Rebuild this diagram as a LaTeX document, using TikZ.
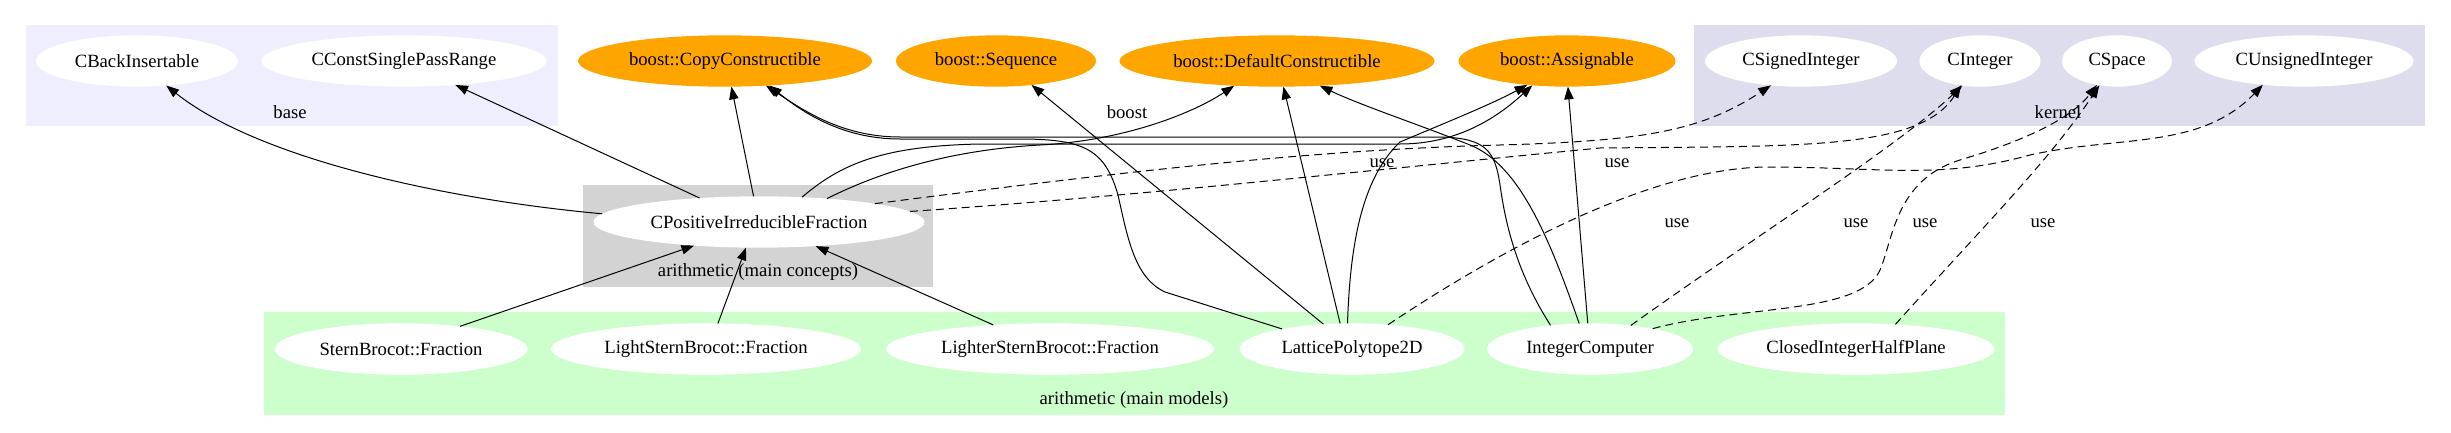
\documentclass[tikz,border=0pt]{standalone}
\usepackage{fontspec}
\setmainfont{Liberation Serif}
\usetikzlibrary{shapes.geometric,arrows.meta}
\definecolor{basebg}{HTML}{EEEEFF}
\definecolor{kernelbg}{HTML}{DDDDEE}
\definecolor{conceptbg}{HTML}{D3D3D3}
\definecolor{modelbg}{HTML}{CCFFCC}
\definecolor{boostorange}{HTML}{FFA500}

\begin{document}
\begin{tikzpicture}[x=0.75pt,y=-0.75pt]
        \tikzstyle{every node}=[font=\fontsize{14}{16}\selectfont]
        \tikzstyle{concept}=[ellipse,fill=white,inner sep=0pt,outer sep=0pt,minimum height=38.5pt]
        \tikzstyle{boostconcept}=[concept,fill=boostorange]
        \tikzstyle{dep}=[-{Triangle[length=9.5pt,width=7pt]},line width=0.75pt]
        \tikzstyle{usedep}=[dep,dash pattern=on 6pt off 3.75pt]
        \useasboundingbox (0,0) rectangle (2451,432);

        % clusters
        \fill[basebg] (26,25) rectangle (558,126);
        \fill[kernelbg] (1694,25) rectangle (2425,126);
        \fill[conceptbg] (583,185) rectangle (933,287);
        \fill[modelbg] (264,312) rectangle (2005,415);
        \node (lbase) at (290,112) {base};
        \node (lboost) at (1127,112) {boost};
        \node (lkernel) at (2058,112) {kernel};
        \node (lconcepts) at (758,272) {arithmetic (main concepts)};
        \node (lmodels) at (1134,400) {arithmetic (main models)};

        % top row
        \node[concept,minimum width=151.5pt] (cbi) at (137,61) {CBackInsertable};
        \node[concept,minimum width=213.75pt] (ccspr) at (404,61) {CConstSinglePassRange};
        \node[boostconcept,minimum width=220.5pt] (bcc) at (725,61) {boost::CopyConstructible};
        \node[boostconcept,minimum width=150pt] (bseq) at (996,61) {boost::Sequence};
        \node[boostconcept,minimum width=236.25pt] (bdc) at (1277,61) {boost::DefaultConstructible};
        \node[boostconcept,minimum width=162.75pt] (bas) at (1567,61) {boost::Assignable};
        \node[concept,minimum width=144pt] (csi) at (1801,61) {CSignedInteger};
        \node[concept,minimum width=90.75pt] (cint) at (1980,61) {CInteger};
        \node[concept,minimum width=82.5pt] (cspace) at (2117,61) {CSpace};
        \node[concept,minimum width=164.25pt] (cui) at (2304,61) {CUnsignedInteger};

        % concepts
        \node[concept,minimum width=248.25pt] (cpif) at (759,222) {CPositiveIrreducibleFraction};

        % models
        \node[concept,minimum width=189.75pt] (sbf) at (401,349) {SternBrocot::Fraction};
        \node[concept,minimum width=232.5pt] (lsbf) at (706,349) {LightSternBrocot::Fraction};
        \node[concept,minimum width=246pt] (lrsbf) at (1050,349) {LighterSternBrocot::Fraction};
        \node[concept,minimum width=168.75pt] (lp) at (1352,349) {LatticePolytope2D};
        \node[concept,minimum width=154.5pt] (ic) at (1590,349) {IntegerComputer};
        \node[concept,minimum width=207.75pt] (cihp) at (1856,349) {ClosedIntegerHalfPlane};

        % edge labels
        \node (u1) at (1382,163) {use};
        \node (u2) at (1617,163) {use};
        \node (u3) at (1677,223) {use};
        \node (u4) at (1856,223) {use};
        \node (u5) at (1925,223) {use};
        \node (u6) at (2043,223) {use};

        % models -> concepts
        \draw[dep] (sbf.21) -- (cpif.-160);
        \draw[dep] (lsbf.65) -- (cpif.-117);
        \draw[dep] (lrsbf.157) -- (cpif.-23);

        % concepts -> base, boost
        \draw[dep] (cpif.177) .. controls (450,200) and (260,160) .. (cbi.-40);
        \draw[dep] (cpif.158) -- (ccspr.-25);
        \draw[dep] (cpif.102) -- (bcc.-76);
        \draw[dep] (cpif.19) .. controls (880,172) and (950,150) .. (1040,145)
                .. controls (1120,141) and (1190,115) .. (bdc.-150);
        \draw[dep] (cpif.30) .. controls (840,165) and (880,146) .. (980,144) -- (1400,144)
                .. controls (1460,144) and (1500,115) .. (bas.-145);

        % models -> boost
        \draw[dep] (lp.164) -- (1165,292) .. controls (1135,278) and (1128,240) .. (1118,195)
                .. controls (1105,150) and (1085,139) .. (1020,139) -- (900,139)
                .. controls (840,139) and (800,110) .. (bcc.-29);
        \draw[dep] (ic.149) .. controls (1515,270) and (1505,220) .. (1500,185)
                .. controls (1495,150) and (1485,138) .. (1440,137) -- (900,137)
                .. controls (840,137) and (800,108) .. (bcc.-31);
        \draw[dep] (lp.139) -- (bseq.-34);
        \draw[dep] (lp.115) -- (bdc.-76);
        \draw[dep] (lp.100) .. controls (1350,250) and (1360,180) .. (1400,142)
                .. controls (1440,125) and (1490,105) .. (bas.-149);
        \draw[dep] (ic.113) .. controls (1550,240) and (1520,165) .. (1470,145)
                .. controls (1420,125) and (1360,105) .. (bdc.-30);
        \draw[dep] (ic.95) -- (bas.-88);

        % use -> kernel
        \draw[usedep] (cpif.9) .. controls (1100,175) and (1300,150) .. (1500,145)
                .. controls (1640,141) and (1700,132) .. (csi.-141);
        \draw[usedep] (cpif.4) .. controls (1150,195) and (1350,172) .. (1600,148)
                .. controls (1800,146) and (1920,150) .. (cint.-128);
        \draw[usedep] (lp.34) .. controls (1500,250) and (1650,168) .. (1767,167)
                .. controls (1880,167) and (1940,180) .. (2030,155)
                .. controls (2120,135) and (2200,150) .. (cui.-150);
        \draw[usedep] (ic.30) .. controls (1750,240) and (1900,145) .. (cint.-126);
        \draw[usedep] (ic.18) .. controls (1740,305) and (1860,315) .. (1880,270)
                .. controls (1893,240) and (1895,180) .. (1960,160)
                .. controls (2020,142) and (2070,120) .. (cspace.-130);
        \draw[usedep] (cihp.32) .. controls (1980,230) and (2050,160) .. (cspace.-126);
    \end{tikzpicture}
\end{document}
